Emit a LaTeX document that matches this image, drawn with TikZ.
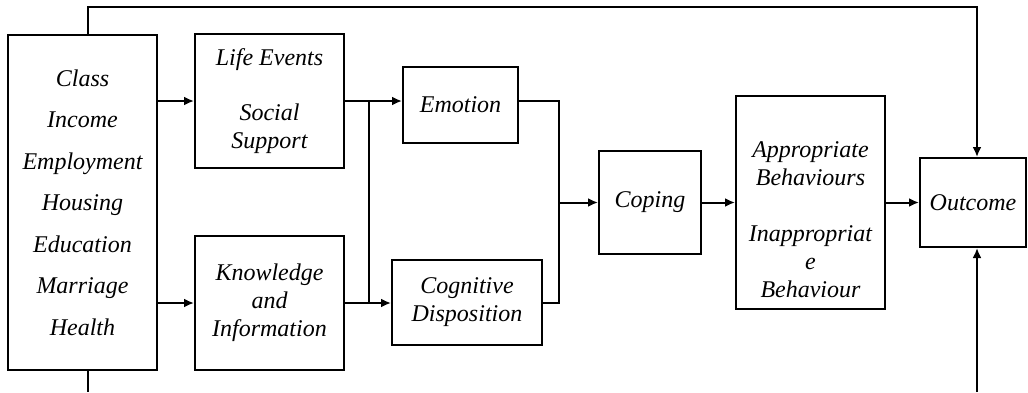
\documentclass[tikz,border=0pt]{standalone}
\usepackage{fontspec}
\setmainfont{Liberation Serif}
\usetikzlibrary{arrows.meta}

\begin{document}
\begin{tikzpicture}[x=0.5pt, y=-0.5pt, line width=1pt, >={Latex[length=5pt,width=4.5pt]},
    box/.style={draw, rectangle, inner sep=0pt, align=center, font=\itshape\fontsize{12}{14}\selectfont}]

    \useasboundingbox (0,0) rectangle (1028,392);

    % Nodes
    \node[box, minimum width=74.5pt, minimum height=167.5pt, font=\itshape\fontsize{12}{20.75}\selectfont] (factors) at (82.5,202.5) {Class\\Income\\Employment\\Housing\\Education\\Marriage\\Health};

    \node[box, minimum width=74.5pt, minimum height=67pt] (life) at (269.5,101) {Life Events\\[13.5pt]Social\\Support};
    \node[box, minimum width=74.5pt, minimum height=67pt] (know) at (269.5,303) {Knowledge\\and\\Information};

    \node[box, minimum width=57.5pt, minimum height=38pt] (emotion) at (460.5,105) {Emotion};
    \node[box, minimum width=75pt, minimum height=42.5pt] (cog) at (467,302.5) {Cognitive\\Disposition};

    \node[box, minimum width=51pt, minimum height=51.5pt] (coping) at (650,202.5) {Coping};
    \node[box, minimum width=74.5pt, minimum height=106.5pt] (appr) at (810.5,202.5) {\mbox{}\\[11.5pt]Appropriate\\Behaviours\\[14pt]Inappropriat\\e\\Behaviour};
    \node[box, minimum width=53pt, minimum height=44.5pt] (outcome) at (973,202.5) {Outcome};

    \coordinate (split) at (369,0);
    \coordinate (merge) at (559,202.5);
    \coordinate (bl) at (88,392);
    \coordinate (br) at (977,392);

    % Links
    \draw[->] (factors.east |- life.west) -- (life.west);
    \draw[->] (factors.east |- know.west) -- (know.west);
    \draw[->] (life.east) -- (emotion.west |- life.east);
    \draw (life.east -| split) -- (know.east -| split);
    \draw[->] (know.east) -- (cog.west |- know.east);
    \draw (emotion.east |- life.east) -| (merge) |- (cog.east);
    \draw[->] (merge) -- (coping.west |- merge);
    \draw[->] (coping) -- (appr);
    \draw[->] (appr) -- (outcome);

    % Feedback lines
    \draw[->] (factors.north -| bl) -- ++(0,-27) -| (outcome.north -| br);
    \draw (factors.south -| bl) -- (bl);
    \draw[->] (br) -- (outcome.south -| br);

\end{tikzpicture}
\end{document}
